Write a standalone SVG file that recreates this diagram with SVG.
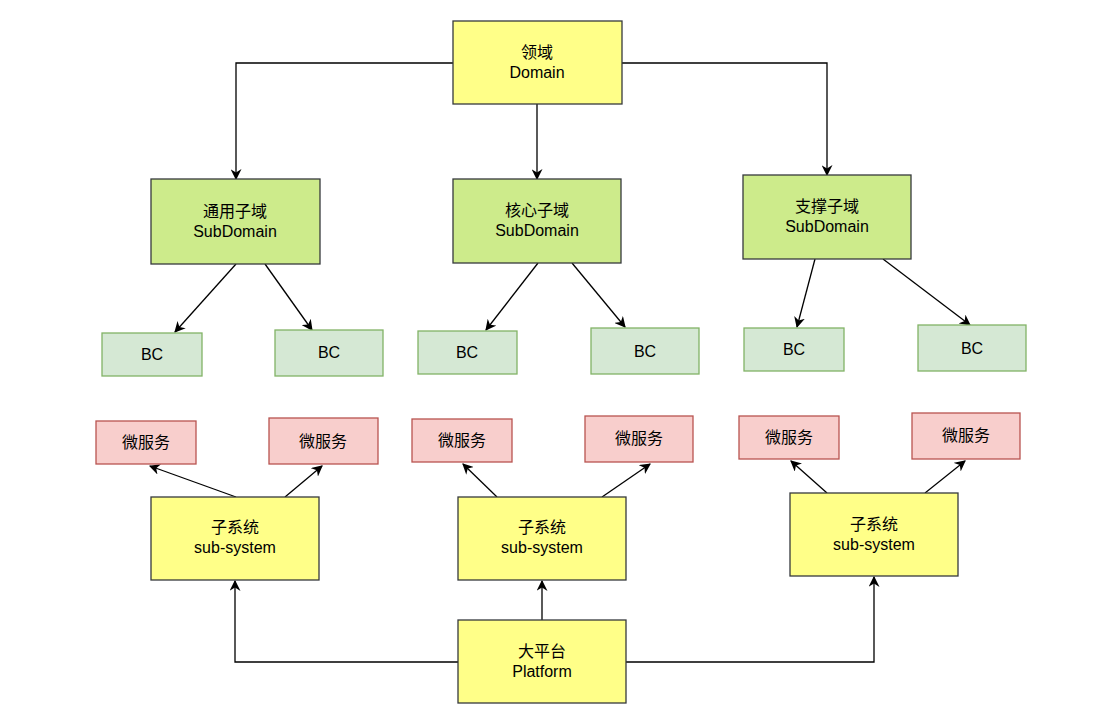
<svg xmlns="http://www.w3.org/2000/svg" width="1098" height="723" viewBox="0 0 1098 723">
<style>
text{font-family:"Liberation Sans","Noto Sans CJK SC",sans-serif;font-size:16px;text-anchor:middle;fill:#000}
.y{fill:#ffff88;stroke:#36393d;stroke-width:1.3}
.g{fill:#cdeb8b;stroke:#36393d;stroke-width:1.3}
.b{fill:#d5e8d4;stroke:#82b366;stroke-width:1.3}
.r{fill:#f8cecc;stroke:#b85450;stroke-width:1.3}
.c path{fill:none;stroke:#000;stroke-width:1.3;marker-end:url(#a)}
</style>
<defs><marker id="a" viewBox="0 0 10 10" refX="9" refY="5" markerWidth="11" markerHeight="11" orient="auto" markerUnits="userSpaceOnUse"><path d="M0,0 L10,5 L0,10 L3,5 Z" fill="#000"/></marker></defs>
<rect width="1098" height="723" fill="#fff"/>
<g class="c">
<path d="M453,63 H236 V179"/><path d="M622,63 H827 V175"/><path d="M537,104 V179"/>
<path d="M236,264 L175,332"/><path d="M265,264 L312,330"/>
<path d="M538,263 L486,330"/><path d="M572,263 L625,327"/>
<path d="M815,259 L797,327"/><path d="M883,259 L970,325"/>
<path d="M236,497 L150,466"/><path d="M285,497 L322,466"/>
<path d="M497,497 L463,464"/><path d="M602,497 L650,464"/>
<path d="M827,493 L791,461"/><path d="M925,493 L965,461"/>
<path d="M458,662 H235 V581"/><path d="M542,620 V581"/><path d="M626,662 H874 V577"/>
</g>
<g id="domain"><rect class="y" x="453" y="21" width="169" height="83"/><text x="537" y="58">领域</text><text x="537" y="78">Domain</text></g>
<g id="sd1"><rect class="g" x="151" y="179" width="169" height="85"/><text x="235" y="217">通用子域</text><text x="235" y="237">SubDomain</text></g>
<g id="sd2"><rect class="g" x="453" y="179" width="168" height="84"/><text x="537" y="216">核心子域</text><text x="537" y="236">SubDomain</text></g>
<g id="sd3"><rect class="g" x="743" y="175" width="168" height="84"/><text x="827" y="212">支撑子域</text><text x="827" y="232">SubDomain</text></g>
<g id="bc1"><rect class="b" x="102" y="333" width="100" height="43"/><text x="152" y="360">BC</text></g>
<g id="bc2"><rect class="b" x="275" y="330" width="108" height="46"/><text x="329" y="358">BC</text></g>
<g id="bc3"><rect class="b" x="418" y="331" width="99" height="43"/><text x="467" y="358">BC</text></g>
<g id="bc4"><rect class="b" x="591" y="328" width="108" height="46"/><text x="645" y="357">BC</text></g>
<g id="bc5"><rect class="b" x="744" y="328" width="100" height="43"/><text x="794" y="355">BC</text></g>
<g id="bc6"><rect class="b" x="918" y="325" width="108" height="46"/><text x="972" y="354">BC</text></g>
<g id="ms1"><rect class="r" x="96" y="421" width="100" height="43"/><text x="146" y="448">微服务</text></g>
<g id="ms2"><rect class="r" x="269" y="418" width="109" height="46"/><text x="323" y="447">微服务</text></g>
<g id="ms3"><rect class="r" x="412" y="419" width="100" height="43"/><text x="462" y="446">微服务</text></g>
<g id="ms4"><rect class="r" x="585" y="416" width="108" height="46"/><text x="639" y="444">微服务</text></g>
<g id="ms5"><rect class="r" x="739" y="416" width="100" height="43"/><text x="789" y="443">微服务</text></g>
<g id="ms6"><rect class="r" x="912" y="413" width="108" height="46"/><text x="966" y="441">微服务</text></g>
<g id="ss1"><rect class="y" x="151" y="497" width="168" height="83"/><text x="235" y="533">子系统</text><text x="235" y="553">sub-system</text></g>
<g id="ss2"><rect class="y" x="458" y="497" width="168" height="83"/><text x="542" y="533">子系统</text><text x="542" y="553">sub-system</text></g>
<g id="ss3"><rect class="y" x="790" y="493" width="168" height="83"/><text x="874" y="530">子系统</text><text x="874" y="550">sub-system</text></g>
<g id="platform"><rect class="y" x="458" y="620" width="168" height="83"/><text x="542" y="657">大平台</text><text x="542" y="677">Platform</text></g>
</svg>
